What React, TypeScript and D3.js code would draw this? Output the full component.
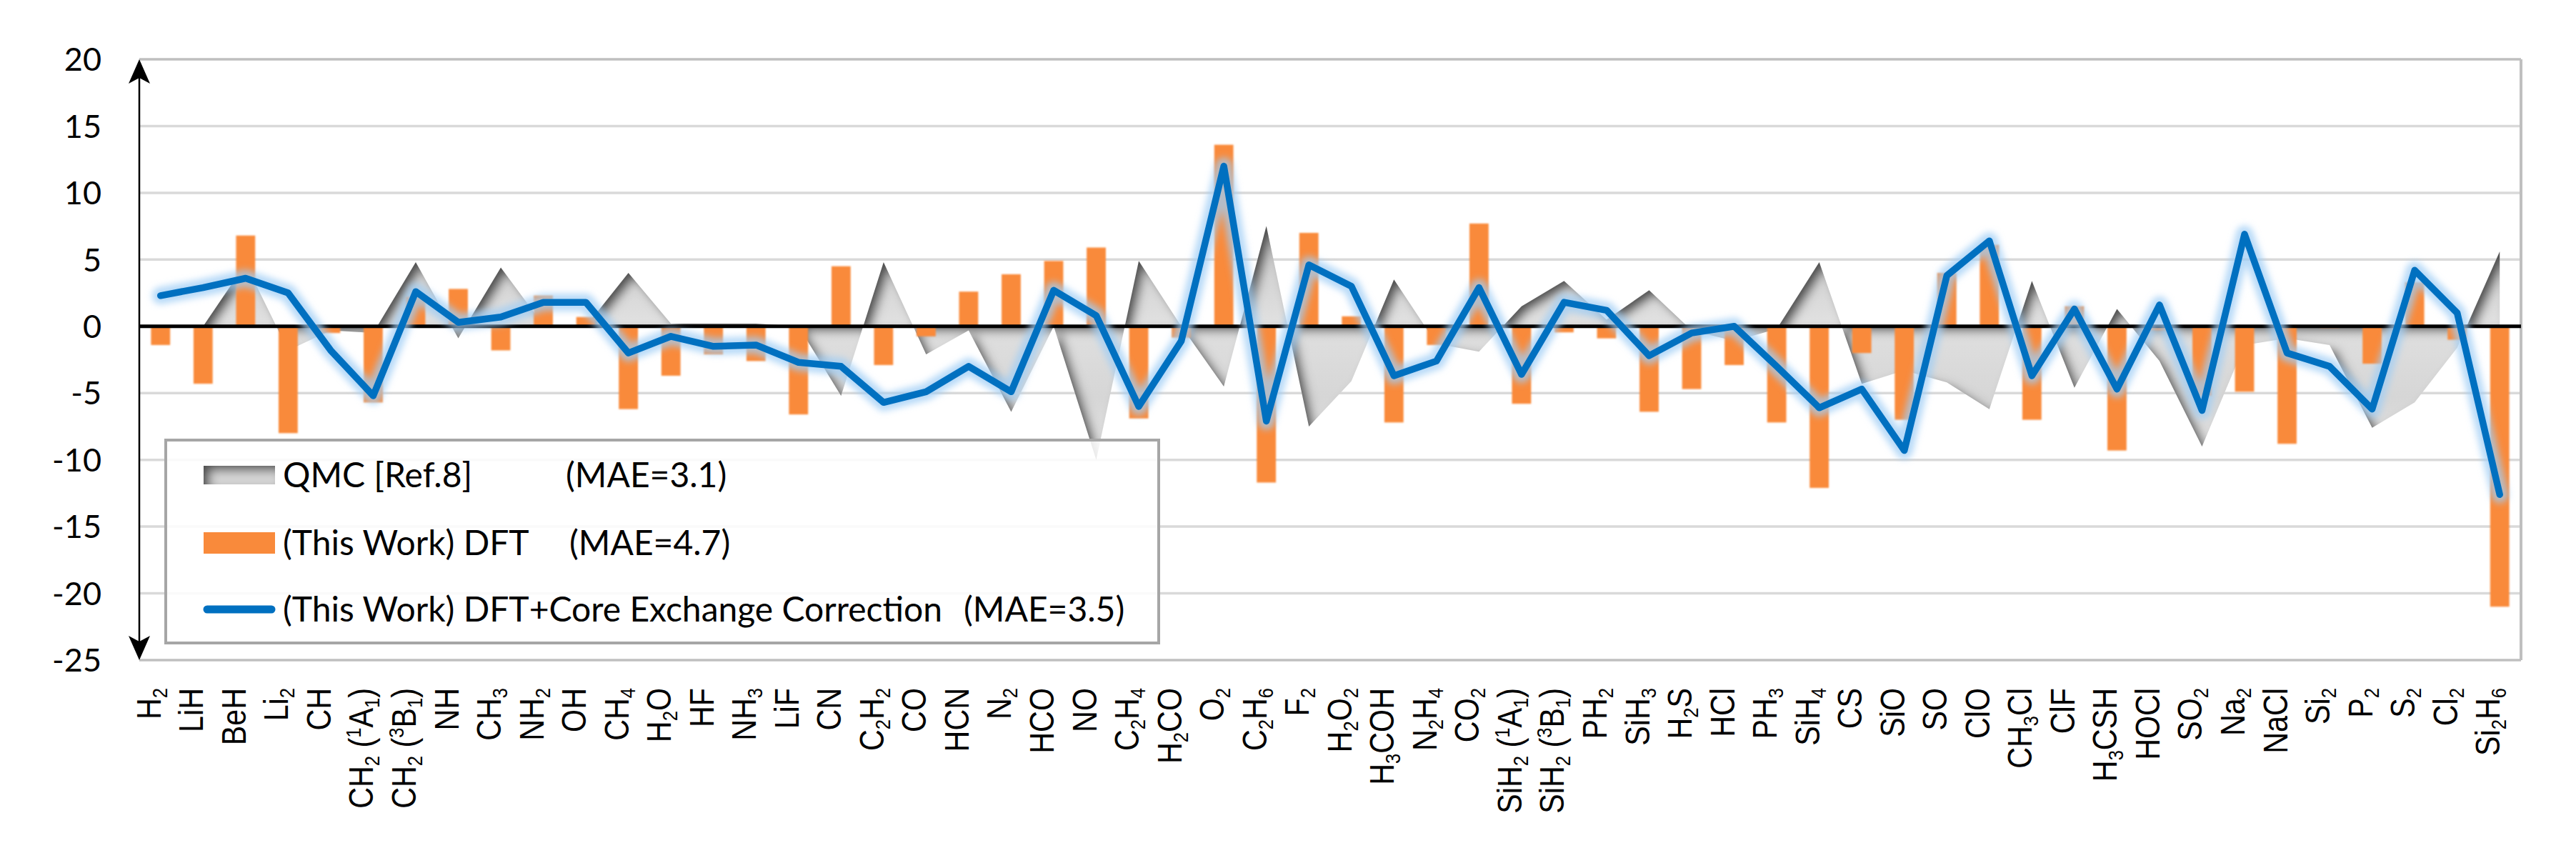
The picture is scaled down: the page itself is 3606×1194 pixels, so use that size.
import * as d3 from 'd3';

// molecule labels: "_x" = subscript char, "^x" = superscript char
const molecules = [
  'H_2', 'LiH', 'BeH', 'Li_2', 'CH', 'CH_2 (^1A_1)', 'CH_2 (^3B_1)', 'NH', 'CH_3', 'NH_2',
  'OH', 'CH_4', 'H_2O', 'HF', 'NH_3', 'LiF', 'CN', 'C_2H_2', 'CO', 'HCN',
  'N_2', 'HCO', 'NO', 'C_2H_4', 'H_2CO', 'O_2', 'C_2H_6', 'F_2', 'H_2O_2', 'H_3COH',
  'N_2H_4', 'CO_2', 'SiH_2 (^1A_1)', 'SiH_2 (^3B_1)', 'PH_2', 'SiH_3', 'H_2S', 'HCl', 'PH_3', 'SiH_4',
  'CS', 'SiO', 'SO', 'ClO', 'CH_3Cl', 'ClF', 'H_3CSH', 'HOCl', 'SO_2', 'Na_2',
  'NaCl', 'Si_2', 'P_2', 'S_2', 'Cl_2', 'Si_2H_6',
];

const qmc = [
  0, 0, 4.7, -1.8, -0.3, -0.5, 4.8, -0.9, 4.4, 0.1,
  0, 4.0, 0.2, 0.2, 0.2, 0, -5.2, 4.8, -2.1, -0.3,
  -6.4, 0, -10.0, 4.9, 0, -4.5, 7.5, -7.5, -4.1, 3.5,
  -1.3, -1.9, 1.5, 3.4, 0.5, 2.7, -0.3, -1.1, -0.2, 4.8,
  -4.3, -3.3, -4.2, -6.2, 3.4, -4.6, 1.3, -2.6, -9.0, -1.4,
  -0.9, -1.4, -7.6, -5.7, -1.6, 5.6,
];

const dft = [
  -1.4, -4.3, 6.8, -8.0, -0.5, -5.7, 2.2, 2.8, -1.8, 2.3,
  0.7, -6.2, -3.7, -2.1, -2.6, -6.6, 4.5, -2.9, -0.75, 2.6,
  3.9, 4.9, 5.9, -6.9, -0.85, 13.6, -11.7, 7.0, 0.75, -7.2,
  -1.4, 7.7, -5.8, -0.45, -0.9, -6.4, -4.7, -2.9, -7.2, -12.1,
  -2.0, -7.0, 4.0, 6.1, -7.0, 1.5, -9.3, -0.3, -5.2, -4.9,
  -8.8, -0.1, -2.8, 3.3, -1.0, -21.0,
];

const dftCore = [
  2.3, 2.9, 3.6, 2.5, -1.8, -5.2, 2.6, 0.3, 0.7, 1.8,
  1.8, -2.0, -0.75, -1.5, -1.4, -2.7, -3.0, -5.7, -4.9, -3.0,
  -4.9, 2.7, 0.8, -6.0, -1.1, 12.0, -7.1, 4.6, 3.0, -3.7,
  -2.6, 2.9, -3.6, 1.8, 1.2, -2.2, -0.5, 0, -3.0, -6.1,
  -4.7, -9.3, 3.8, 6.4, -3.7, 1.3, -4.7, 1.6, -6.3, 6.9,
  -2.0, -3.0, -6.2, 4.2, 1.0, -12.6,
];

const yTicks = [20, 15, 10, 5, 0, -5, -10, -15, -20, -25];

const legendNames = ['QMC [Ref.8]', '(This Work) DFT', '(This Work) DFT+Core Exchange Correction'];
const legendMae = ['(MAE=3.1)', '(MAE=4.7)', '(MAE=3.5)'];

const W = 3606;
const H = 1194;
const left = 195;
const right = 3529;
const top = 83;
const bottom = 924;

const calibri = 'Lato, "Open Sans", sans-serif';
const arial = '"Liberation Sans", Arial, sans-serif';

type Seg = { t: string; m: 'n' | 'sub' | 'sup' };

function parseLabel(s: string): Seg[] {
  const out: Seg[] = [];
  for (let i = 0; i < s.length; i++) {
    let m: Seg['m'] = 'n';
    let c = s[i];
    if (c === '_' || c === '^') {
      m = c === '_' ? 'sub' : 'sup';
      c = s[++i];
    }
    const last = out[out.length - 1];
    if (last && last.m === m) last.t += c;
    else out.push({ t: c, m });
  }
  return out;
}

function MolLabel({ label, x, y }: { label: string; x: number; y: number }) {
  const fs = 48;
  const segs = parseLabel(label);
  let cur = 0;
  return (
    <text
      transform={`translate(${x},${y}) rotate(-90) scale(0.86,1)`}
      textAnchor="end"
      dy="0.36em"
      fontFamily={arial}
      fontSize={fs}
      fill="#000"
    >
      {segs.map((sg, i) => {
        const target = sg.m === 'sub' ? 9 : sg.m === 'sup' ? -17 : 0;
        const dy = target - cur;
        cur = target;
        return (
          <tspan key={i} dy={dy} fontSize={sg.m === 'n' ? fs : fs * 0.62}>
            {sg.t}
          </tspan>
        );
      })}
    </text>
  );
}

export default function App() {
  const x = d3
    .scaleBand<string>()
    .domain(molecules)
    .range([left, right])
    .paddingInner(0.55)
    .paddingOuter(0.275);
  const y = d3.scaleLinear().domain([-25, 20]).range([bottom, top]);
  const cx = (m: string) => (x(m) ?? 0) + x.bandwidth() / 2;

  const area = d3
    .area<number>()
    .x((_, i) => cx(molecules[i]))
    .y0(y(0))
    .y1((d) => y(d));
  const line = d3
    .line<number>()
    .x((_, i) => cx(molecules[i]))
    .y((d) => y(d));

  const lineD = line(dftCore) ?? '';
  const orange = '#f98a3b';
  const blue = '#0070c0';

  // legend geometry
  const lg = { x: 232, y: 616, w: 1390, h: 284 };
  const rowY = [665, 760, 853];

  return (
    <svg
      width={W}
      height={H}
      viewBox={`0 0 ${W} ${H}`}
      style={{ position: 'absolute', left: 0, top: 0, background: '#fff' }}
    >
      <defs>
        <filter id="inner" filterUnits="userSpaceOnUse" x={0} y={0} width={W} height={H}>
          <feComponentTransfer in="SourceAlpha" result="inv">
            <feFuncA type="table" tableValues="1 0" />
          </feComponentTransfer>
          <feOffset in="inv" dx={9} dy={7} result="off" />
          <feGaussianBlur in="off" stdDeviation={7} result="blur" />
          <feFlood floodColor="#3a3a3a" floodOpacity={0.95} />
          <feComposite in2="blur" operator="in" result="sh" />
          <feComposite in="sh" in2="SourceAlpha" operator="in" result="inner" />
          <feMerge>
            <feMergeNode in="SourceGraphic" />
            <feMergeNode in="inner" />
          </feMerge>
        </filter>
        <filter id="glow" filterUnits="userSpaceOnUse" x={0} y={0} width={W} height={H}>
          <feGaussianBlur stdDeviation={5} />
        </filter>
        <filter id="soft" filterUnits="userSpaceOnUse" x={0} y={0} width={W} height={H}>
          <feGaussianBlur stdDeviation={1.2} />
        </filter>
        <linearGradient id="areaFill" gradientUnits="userSpaceOnUse" x1={0} y1={y(8)} x2={0} y2={y(-11)}>
          <stop offset="0%" stopColor="#c4c4c4" />
          <stop offset="40%" stopColor="#e0e0e0" />
          <stop offset="70%" stopColor="#d6d6d6" />
          <stop offset="100%" stopColor="#e6e6e6" />
        </linearGradient>
      </defs>

      {/* grid */}
      {yTicks.map((t) => (
        <line
          key={t}
          x1={left}
          x2={right}
          y1={y(t)}
          y2={y(t)}
          stroke={t === 20 || t === -25 ? '#bfbfbf' : '#d9d9d9'}
          strokeWidth={3.5}
        />
      ))}
      <line x1={right} x2={right} y1={top} y2={bottom} stroke="#bfbfbf" strokeWidth={4} />

      {/* QMC area */}
      <path d={area(qmc) ?? ''} fill="url(#areaFill)" filter="url(#inner)" />

      {/* DFT bars */}
      <g filter="url(#soft)">
        {dft.map((v, i) => (
          <rect
            key={molecules[i]}
            x={x(molecules[i])}
            width={x.bandwidth()}
            y={Math.min(y(v), y(0))}
            height={Math.abs(y(v) - y(0))}
            fill={orange}
          />
        ))}
      </g>

      {/* zero line */}
      <line x1={left} x2={right} y1={y(0)} y2={y(0)} stroke="#000" strokeWidth={5} />

      {/* corrected line with glow */}
      <path d={lineD} fill="none" stroke="#9fcdf5" strokeOpacity={0.75} strokeWidth={24} strokeLinejoin="round" strokeLinecap="round" filter="url(#glow)" />
      <path d={lineD} fill="none" stroke={blue} strokeWidth={9.5} strokeLinejoin="round" strokeLinecap="round" />

      {/* y axis with arrows */}
      <line x1={left} x2={left} y1={top + 10} y2={bottom - 10} stroke="#000" strokeWidth={2.5} />
      <path d={`M${left},${top} L${left + 15},${top + 34} L${left},${top + 26} L${left - 15},${top + 34} Z`} fill="#000" />
      <path d={`M${left},${bottom} L${left + 15},${bottom - 34} L${left},${bottom - 26} L${left - 15},${bottom - 34} Z`} fill="#000" />

      {/* y tick labels */}
      {yTicks.map((t) => (
        <text
          key={t}
          x={142}
          y={y(t)}
          dy="0.36em"
          textAnchor="end"
          fontFamily={calibri}
          fontSize={45}
          fill="#000"
        >
          {t}
        </text>
      ))}

      {/* x labels */}
      {molecules.map((m) => (
        <MolLabel key={m} label={m} x={cx(m)} y={963} />
      ))}

      {/* legend */}
      <rect x={lg.x} y={lg.y} width={lg.w} height={lg.h} fill="#fff" fillOpacity={0.85} stroke="#a6a6a6" strokeWidth={4} />
      <rect x={285} y={rowY[0] - 13} width={100} height={26} fill="#d6d6d6" filter="url(#inner)" />
      <rect x={285} y={rowY[1] - 15} width={100} height={30} fill={orange} />
      <line x1={290} x2={380} y1={rowY[2]} y2={rowY[2]} stroke={blue} strokeWidth={11} strokeLinecap="round" />
      {legendNames.map((n, i) => (
        <text key={n} x={396} y={rowY[i]} dy="0.36em" fontFamily={calibri} fontSize={48} fill="#000">
          {n}
        </text>
      ))}
      {legendMae.map((n, i) => (
        <text key={n} x={[792, 797, 1349][i]} y={rowY[i]} dy="0.36em" fontFamily={calibri} fontSize={48} fill="#000">
          {n}
        </text>
      ))}
    </svg>
  );
}
